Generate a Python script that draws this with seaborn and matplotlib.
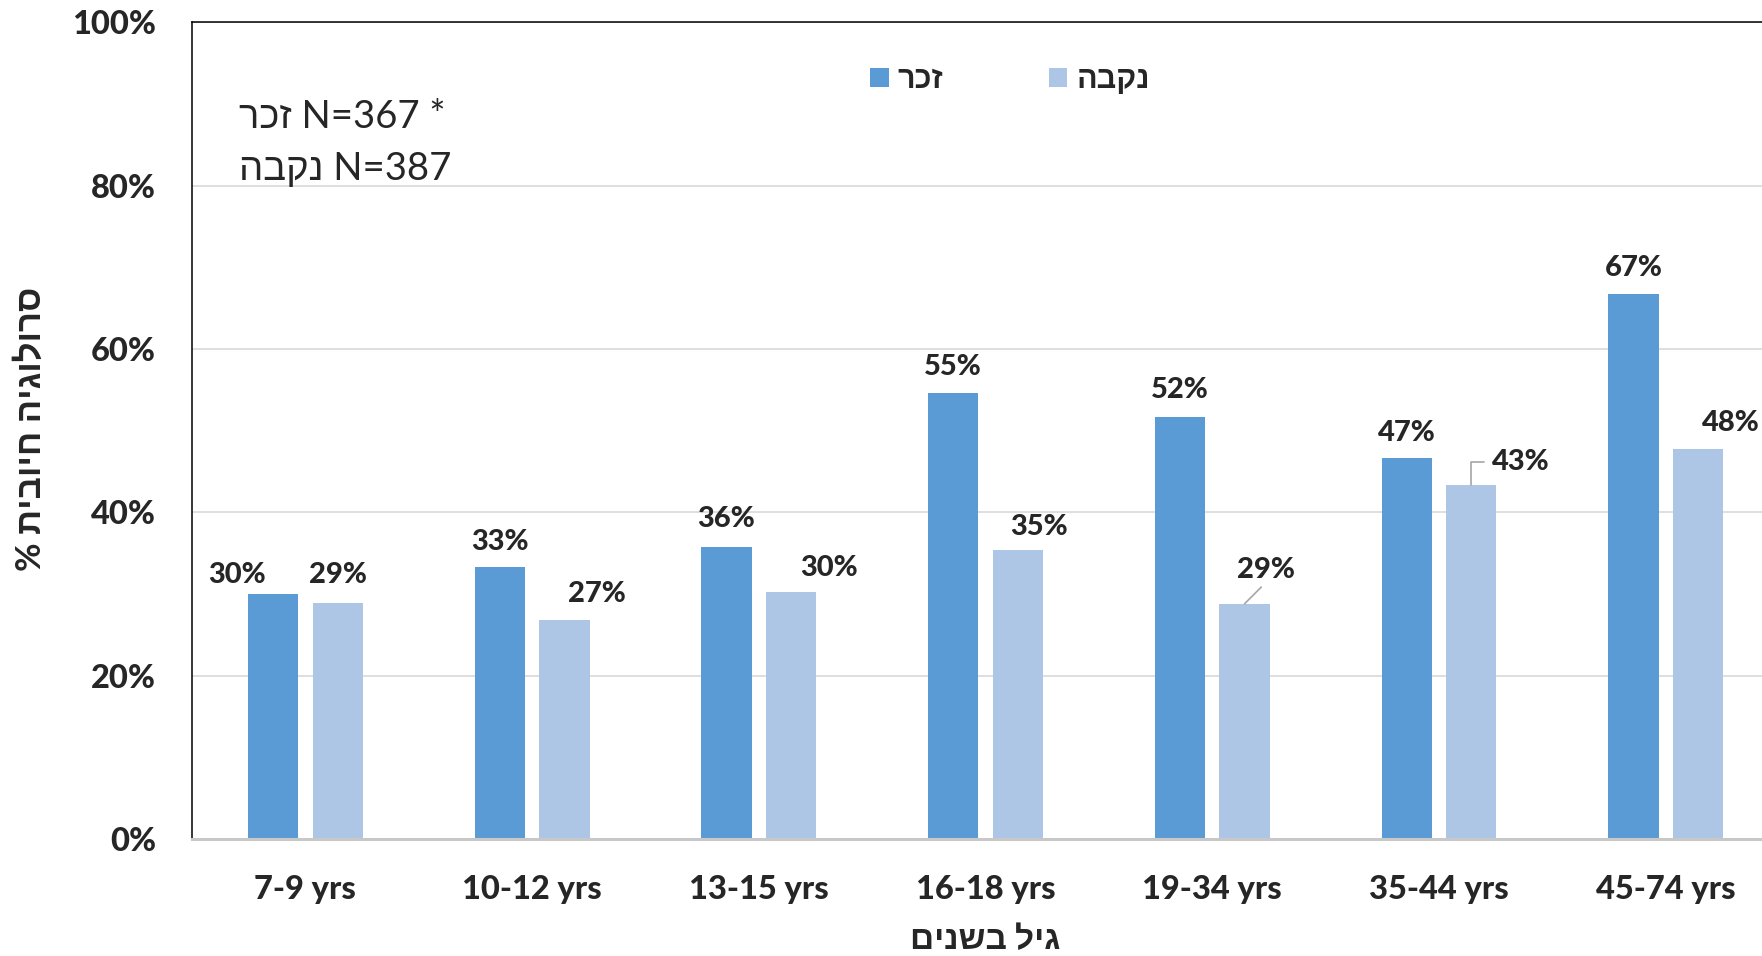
import matplotlib
matplotlib.use("Agg")
import matplotlib.pyplot as plt
import pandas as pd
import seaborn as sns

# values (% positive serology)
age_groups = ["7-9 yrs", "10-12 yrs", "13-15 yrs", "16-18 yrs", "19-34 yrs", "35-44 yrs", "45-74 yrs"]
male_pct = [30.0, 33.3, 35.8, 54.6, 51.7, 46.6, 66.7]
female_pct = [28.9, 26.8, 30.2, 35.4, 28.8, 43.3, 47.8]
sex_labels = ["זכר", "נקבה"]
n_male = 367
n_female = 387
y_ticks = [0, 20, 40, 60, 80, 100]

x_title = "גיל בשנים"
y_title = "סרולוגיה חיובית %"

HEAVY = 900


def rtl(s):
    # matplotlib has no bidi support, so hand it the visual order
    return s[::-1]


df = pd.DataFrame({
    "age": age_groups * 2,
    "pct": male_pct + female_pct,
    "sex": [sex_labels[0]] * len(age_groups) + [sex_labels[1]] * len(age_groups),
})

sns.set_style("white")
plt.rcParams["font.family"] = ["Lato", "Liberation Sans", "DejaVu Sans"]

fig = plt.figure(figsize=(17.62, 9.56), dpi=100)
ax = fig.add_axes([0.109, 0.1224, 0.9007, 0.8542])

sns.barplot(
    data=df, x="age", y="pct", hue="sex",
    palette=["#5B9BD5", "#AEC6E6"], saturation=1,
    width=0.569, gap=0.22, errorbar=None, linewidth=0, ax=ax,
)

ax.set_ylim(0, 100)
ax.set_yticks(y_ticks)
ax.set_yticklabels([f"{t}%" for t in y_ticks], fontsize=23.5, fontweight=HEAVY)
for lab in ax.get_xticklabels():
    lab.set_fontsize(23.5)
    lab.set_fontweight(HEAVY)
ax.tick_params(axis="y", length=0, pad=26)
ax.tick_params(axis="x", length=0, pad=26)

ax.set_axisbelow(True)
ax.yaxis.grid(True, color="#D9D9D9", lw=1.2)
ax.xaxis.grid(False)
for side in ["top", "left", "right"]:
    ax.spines[side].set_color("black")
    ax.spines[side].set_linewidth(1.1)
ax.spines["bottom"].set_color("#C8C8C8")
ax.spines["bottom"].set_linewidth(2.2)

ax.set_xlabel(rtl(x_title), fontsize=24, fontweight="bold", va="center")
ax.xaxis.set_label_coords(0.4997, -0.1237)
ax.set_ylabel(rtl(y_title), fontsize=25, fontweight="bold", va="center")
ax.yaxis.set_label_coords(-0.1015, 0.502)

# data labels; a few were dragged aside in the original
label_dx = [[-36, 0, 0, 0, 0, 0, 0], [0, 33, 38, 21, 21, 50, 33]]
label_dy = [[19, 25, 28, 26, 27, 25, 26], [28, 26, 24, 23, 34, 23, 26]]
leader = {(1, 4): "straight", (1, 5): "angle"}

for h, (bars, vals) in enumerate(zip(ax.containers, [male_pct, female_pct])):
    for i, (bar, v) in enumerate(zip(bars, vals)):
        xc = bar.get_x() + bar.get_width() / 2
        kw = {}
        if leader.get((h, i)) == "straight":
            kw["arrowprops"] = dict(arrowstyle="-", color="#A6A6A6", lw=1.2,
                                    relpos=(0.5, 0), shrinkA=1, shrinkB=0)
        elif leader.get((h, i)) == "angle":
            kw["arrowprops"] = dict(arrowstyle="-", color="#A6A6A6", lw=1.2,
                                    relpos=(0, 0.5), shrinkA=4, shrinkB=0,
                                    connectionstyle="angle,angleA=0,angleB=90,rad=0")
        ax.annotate(f"{round(v)}%", xy=(xc, v),
                    xytext=(label_dx[h][i], label_dy[h][i]), textcoords="offset pixels",
                    ha="center", va="center", fontsize=21, fontweight=HEAVY, **kw)

handles, labels = ax.get_legend_handles_labels()
ax.legend(handles, [rtl(l) for l in labels], ncol=2, frameon=False,
          loc="center", bbox_to_anchor=(1010 / 1762, 1 - 80 / 956),
          bbox_transform=fig.transFigure,
          prop={"size": 22, "weight": "bold"},
          handlelength=0.6, handleheight=0.6, handletextpad=0.3, columnspacing=3.45)

fig.text(239 / 1762, 1 - 128 / 956, rtl(sex_labels[0]) + f" N={n_male} *",
         fontsize=27.5, va="baseline", ha="left")
fig.text(239 / 1762, 1 - 180 / 956, rtl(sex_labels[1]) + f" N={n_female}",
         fontsize=27.5, va="baseline", ha="left")

fig.savefig("out.png", dpi=100)
